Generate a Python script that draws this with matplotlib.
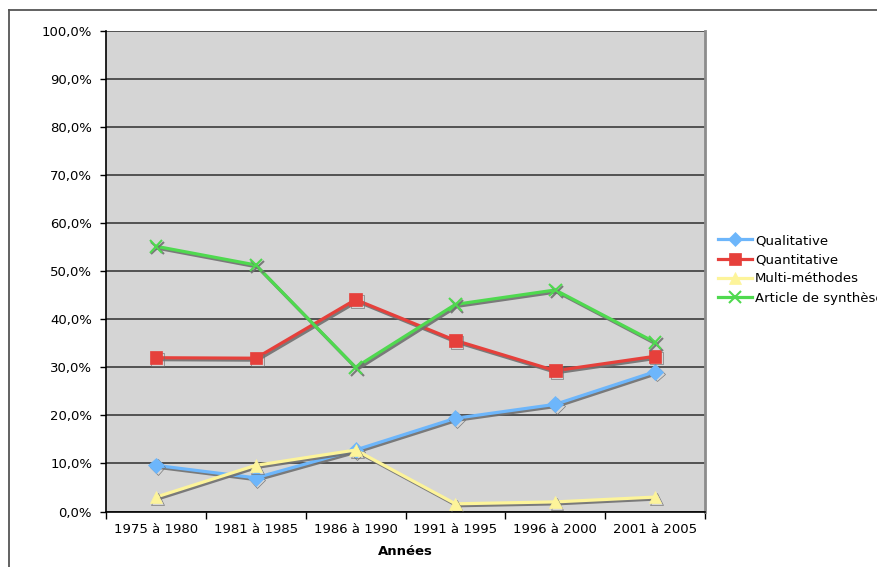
import numpy as np
import matplotlib
matplotlib.use("Agg")
import matplotlib.pyplot as plt
import matplotlib.patheffects as pe
from matplotlib.lines import Line2D
from matplotlib.ticker import FuncFormatter

# Data
periods = ["1975 à 1980", "1981 à 1985", "1986 à 1990",
           "1991 à 1995", "1996 à 2000", "2001 à 2005"]
qualitative = [9.6, 7.0, 12.8, 19.4, 22.3, 29.1]
quantitative = [32.0, 31.9, 44.1, 35.6, 29.3, 32.3]
multi = [3.0, 9.6, 12.8, 1.6, 2.0, 3.0]
synthese = [55.2, 51.3, 30.0, 43.1, 46.1, 35.2]

series = [
    ("Qualitative", qualitative, "#6db6fb", "D", 8),
    ("Quantitative", quantitative, "#e6403b", "s", 9),
    ("Multi-méthodes", multi, "#fdf49a", "^", 9),
    ("Article de synthèse", synthese, "#4fd94f", "x", 9),
]

plt.rcParams["font.family"] = "DejaVu Sans"
plt.rcParams["font.size"] = 9.5

fig = plt.figure(figsize=(8.77, 5.67), dpi=100)
ax = fig.add_axes([106 / 877, 55.5 / 567, 599 / 877, 480.5 / 567])
ax.set_facecolor("#d5d5d5")

x = np.arange(len(periods))
shadow = [pe.SimpleLineShadow(offset=(1.2, -1.4), shadow_color="#707070", alpha=0.9),
          pe.Normal()]
handles = []
for name, vals, col, mk, ms in series:
    ax.plot(x, vals, color=col, lw=2.3, marker=mk, ms=ms, mew=1.5 if mk == "x" else 0.5,
            mec=col, mfc=col, zorder=3, path_effects=shadow)
    handles.append(Line2D([], [], color=col, lw=2.3, marker=mk, ms=ms - 1,
                          mew=1.5 if mk == "x" else 0.5, mec=col, mfc=col))

ax.set_xlim(-0.5, len(periods) - 0.5)
ax.set_ylim(0, 100)
ax.set_yticks(np.arange(0, 101, 10))
ax.yaxis.set_major_formatter(FuncFormatter(lambda v, p: f"{v:.1f}%".replace(".", ",")))
ax.grid(axis="y", color="#3c3c3c", lw=1.2)
ax.set_axisbelow(True)

ax.set_xticks(np.arange(-0.5, len(periods)), labels=[])
ax.set_xticks(x, labels=periods, minor=True)
ax.tick_params(axis="x", which="major", length=5, width=1, direction="out")
ax.tick_params(axis="x", which="minor", length=0, pad=8)
ax.tick_params(axis="y", length=4, width=1, pad=6)

for s in ["left", "bottom"]:
    ax.spines[s].set_color("black")
    ax.spines[s].set_linewidth(1.2)
ax.spines["top"].set_visible(False)
ax.spines["right"].set_color("#8c8c8c")
ax.spines["right"].set_linewidth(2)

ax.set_xlabel("Années", fontweight="bold", labelpad=7)

fig.legend(handles, [s[0] for s in series], loc="upper left",
           bbox_to_anchor=(718 / 877, 1 - 234 / 567), frameon=False,
           handlelength=2.6, handletextpad=0.2, labelspacing=0.47,
           borderpad=0, borderaxespad=0, fontsize=9.5)

# outer chart frame
fig.add_artist(Line2D([8.5 / 877, 1], [1 - 9.5 / 567] * 2, color="#555555", lw=1.3,
                      transform=fig.transFigure))
fig.add_artist(Line2D([8.5 / 877] * 2, [0, 1 - 9.5 / 567], color="#555555", lw=1.3,
                      transform=fig.transFigure))

fig.savefig("out.png", dpi=100)
